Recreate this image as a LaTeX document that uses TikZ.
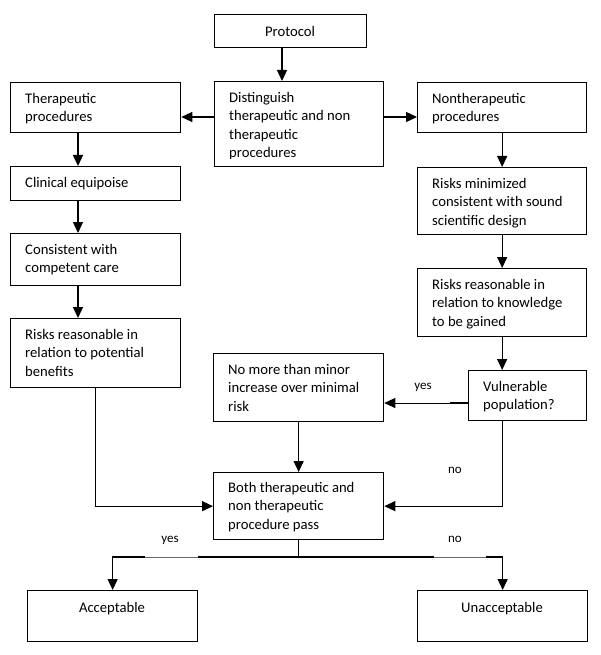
\documentclass[tikz,border=0pt]{standalone}
\usepackage{fontspec}
\setmainfont{Carlito}
\usetikzlibrary{arrows.meta,calc}
\newcommand\fz{\fontsize{14.67pt}{18.4pt}\selectfont}
\newcommand\lns[1]{\begin{tabular}[t]{@{}l@{}}#1\end{tabular}}
\begin{document}
\begin{tikzpicture}[x=1pt,y=-1pt,
  box/.style={draw, line width=1.3pt, anchor=north west, inner sep=0pt},
  txt/.style={inner sep=0pt, anchor=base west, font=\fz},
  ctxt/.style={inner sep=0pt, anchor=base, font=\fz},
  lbl/.style={inner sep=0pt, anchor=base, font=\fontsize{13pt}{15pt}\selectfont},
  ln/.style={line width=1.3pt},
  arr/.style={line width=1.3pt, -{Triangle[length=11pt,width=10pt]}}]
\fill[white] (0,0) rectangle (600,655);
\useasboundingbox (0,0) rectangle (600,655);
% boxes
\node[box, minimum width=152pt, minimum height=33pt] (prot) at (214,14) {};
\node[box, minimum width=169pt, minimum height=85pt] (dist) at (214,81) {};
\node[box, minimum width=170pt, minimum height=50pt] (ther) at (10,82) {};
\node[box, minimum width=169pt, minimum height=50pt] (nont) at (417,82) {};
\node[box, minimum width=170pt, minimum height=34pt] (clin) at (10,166) {};
\node[box, minimum width=170pt, minimum height=52pt] (cons) at (10,233) {};
\node[box, minimum width=170pt, minimum height=69pt] (riskl) at (10,318) {};
\node[box, minimum width=169pt, minimum height=67pt] (rmin) at (417,167) {};
\node[box, minimum width=169pt, minimum height=68pt] (rkno) at (417,268) {};
\node[box, minimum width=118pt, minimum height=50pt] (vul) at (468,370) {};
\node[box, minimum width=170pt, minimum height=68pt] (nomore) at (213,353) {};
\node[box, minimum width=170pt, minimum height=67pt] (both) at (213,472) {};
\node[box, minimum width=170pt, minimum height=51pt] (acc) at (27,590) {};
\node[box, minimum width=170pt, minimum height=51pt] (unacc) at (417,590) {};
% texts
\node[ctxt] (protT) at (290,37) {Protocol};
\begin{scope}
\clip (214,81) rectangle (383,159);
\node[txt] (distT) at (229,102.5) {\lns{Distinguish\\therapeutic and non\\therapeutic\\procedures}};
\end{scope}
\node[txt] (therT) at (25,103.5) {\lns{Therapeutic\\procedures}};
\node[txt] (nontT) at (432,103.5) {\lns{Nontherapeutic\\procedures}};
\node[txt] (clinT) at (25,187.5) {Clinical equipoise};
\node[txt] (consT) at (25,254.5) {\lns{Consistent with\\competent care}};
\node[txt] (risklT) at (25,339.5) {\lns{Risks reasonable in\\relation to potential\\benefits}};
\node[txt] (rminT) at (432,188.5) {\lns{Risks minimized\\consistent with sound\\scientific design}};
\begin{scope}
\clip (417,268) rectangle (586,329);
\node[txt] (rknoT) at (432,289.5) {\lns{Risks reasonable in\\relation to knowledge\\to be gained}};
\end{scope}
\node[txt] (vulT) at (483,391.5) {\lns{Vulnerable\\population?}};
\node[txt] (nomoreT) at (228,374.5) {\lns{No more than minor\\increase over minimal\\risk}};
\node[txt] (bothT) at (228,492.5) {\lns{Both therapeutic and\\non therapeutic\\procedure pass}};
\node[ctxt] (accT) at (112,612) {Acceptable};
\node[ctxt] (unaccT) at (502,612) {Unacceptable};
% labels
\node[lbl] (yes1) at (423,389) {yes};
\node[lbl] (no1) at (455,473) {no};
\node[lbl] (yes2) at (170,542) {yes};
\node[lbl] (no2) at (455,542) {no};
% helper coordinates
\coordinate (px) at (282,0);
\coordinate (lx) at (78,0);
\coordinate (ly) at (0,117);
\coordinate (vy) at (0,403);
\coordinate (vx) at (450,0);
\coordinate (hy) at (0,557);
\coordinate (g1) at (145,557);
\coordinate (g2) at (198,557);
\coordinate (g3) at (434,557);
\coordinate (g4) at (486,557);
% connectors
\draw[arr] (prot.south -| px) -- (dist.north -| px);
\draw[arr] (dist.west |- ly) -- (ther.east |- ly);
\draw[arr] (dist.east |- ly) -- (nont.west |- ly);
\draw[arr] (ther.south -| lx) -- (clin.north -| lx);
\draw[arr] (clin.south -| lx) -- (cons.north -| lx);
\draw[arr] (cons.south -| lx) -- (riskl.north -| lx);
\draw[arr] (nont.south) -- (rmin.north);
\draw[arr] (rmin.south) -- (rkno.north);
\draw[arr] (rkno.south) -- (vul.north -| rkno.south);
\draw[arr, line width=0.8pt] (vul.west |- vy) -- (nomore.east |- vy);
\draw[ln] (vul.west |- vy) -- (vx |- vy);
\draw[arr] (nomore.south) -- (both.north);
\draw[arr] (riskl.south) |- (both.west);
\draw[arr] (vul.south -| rkno.south) |- (both.east);
\draw[ln] (both.south) -- (both.south |- hy);
\draw[arr] (both.south |- hy) -| (acc.north);
\draw[arr] (both.south |- hy) -| (unacc.north);
\draw[white, line width=1.6pt] (g1) -- (g2) (g3) -- (g4);
\draw[black!60, line width=0.8pt] (g1) -- (g2) (g3) -- (g4);
\end{tikzpicture}
\end{document}
